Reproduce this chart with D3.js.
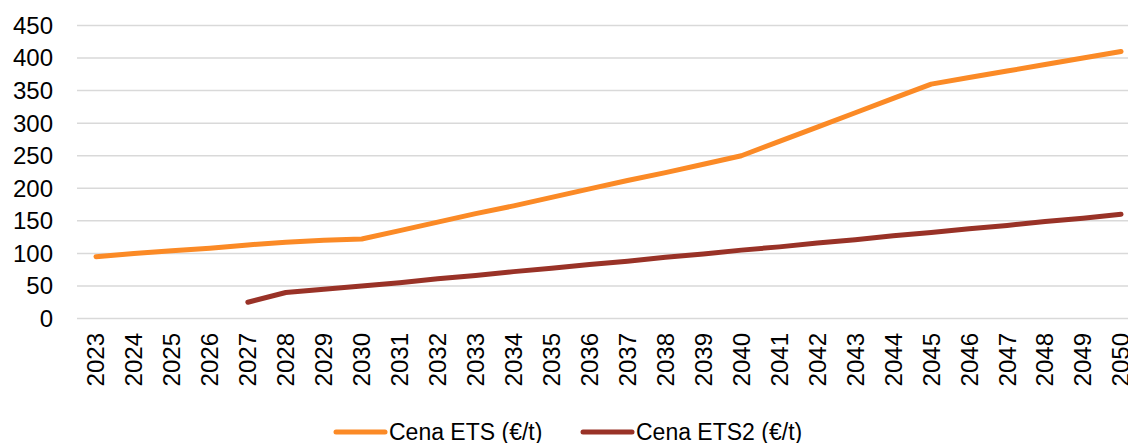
<!DOCTYPE html>
<html>
<head>
<meta charset="utf-8">
<script src="https://cdn.jsdelivr.net/npm/d3@7"></script>
<style>
    body { margin: 0; background: #fff; }
    svg text { font-family: "Liberation Sans", Arial, sans-serif; fill: #000; }
</style>
</head>
<body>
<div id="chart"></div>
<script>
//
// ETS price chart
//

const _width = 1128;
const _height = 443;

var years = [2023, 2024, 2025, 2026, 2027, 2028, 2029, 2030, 2031, 2032, 2033, 2034, 2035, 2036,
    2037, 2038, 2039, 2040, 2041, 2042, 2043, 2044, 2045, 2046, 2047, 2048, 2049, 2050];

var yTicks = [0, 50, 100, 150, 200, 250, 300, 350, 400, 450];

// ETS price (EUR/t)
var etsValues = [95, 100, 104, 108, 113, 117, 120, 122, 135, 148, 161, 173, 186, 199,
    212, 224, 237, 250, 272, 294, 316, 338, 360, 370, 380, 390, 400, 410];

// ETS2 price (EUR/t), starts in 2027
var ets2Values = [null, null, null, null, 25, 40, 45, 50, 55, 61, 66, 72, 77, 83,
    88, 94, 99, 105, 110, 116, 121, 127, 132, 138, 143, 149, 154, 160];

var seriesNames = ["Cena ETS (€/t)", "Cena ETS2 (€/t)"];
var seriesColors = ["#fb8a26", "#993227"];

var svg = d3.select("#chart")
    .append("svg")
    .attr("width", _width)
    .attr("height", _height);

var x = d3.scaleBand().domain(years).range([77, 1140]).paddingInner(0).paddingOuter(0);
var y = d3.scaleLinear().domain([0, 450]).range([318.5, 25.5]);

// gridlines
svg.append("g")
    .selectAll("line")
    .data(yTicks)
    .join("line")
    .attr("x1", 77)
    .attr("x2", 1140)
    .attr("y1", d => y(d))
    .attr("y2", d => y(d))
    .attr("stroke", "#d9d9d9")
    .attr("stroke-width", 1.5);

// y-axis labels
svg.append("g")
    .selectAll("text")
    .data(yTicks)
    .join("text")
    .attr("x", 53)
    .attr("y", d => y(d))
    .attr("dy", "0.35em")
    .style("text-anchor", "end")
    .style("font-size", "24px")
    .text(d => d);

// x-axis labels
svg.append("g")
    .selectAll("text")
    .data(years)
    .join("text")
    .attr("transform", d => "translate(" + (x(d) + x.bandwidth() / 2) + ",333) rotate(-90)")
    .attr("dy", "0.35em")
    .style("text-anchor", "end")
    .style("font-size", "24px")
    .text(d => d);

var line = d3.line()
    .defined(d => d.v != null)
    .x(d => x(d.year) + x.bandwidth() / 2)
    .y(d => y(d.v));

var series = [etsValues, ets2Values].map(function (vals, i) {
    return { name: seriesNames[i], values: years.map((yr, j) => ({ year: yr, v: vals[j] })) };
});

svg.append("g")
    .selectAll("path")
    .data(series)
    .join("path")
    .attr("fill", "none")
    .attr("stroke", (d, i) => seriesColors[i])
    .attr("stroke-width", 5)
    .attr("stroke-linejoin", "round")
    .attr("stroke-linecap", "round")
    .attr("d", d => line(d.values));

// legend
var legendX = [334, 581];
var legend = svg.append("g")
    .selectAll("g")
    .data(seriesNames)
    .join("g")
    .attr("transform", (d, i) => "translate(" + legendX[i] + ",432)");

legend.append("line")
    .attr("x1", 2)
    .attr("x2", 51)
    .attr("stroke", (d, i) => seriesColors[i])
    .attr("stroke-width", 5)
    .attr("stroke-linecap", "round");

legend.append("text")
    .attr("x", 55)
    .attr("dy", "0.35em")
    .style("font-size", "23px")
    .text(d => d);
</script>
</body>
</html>
